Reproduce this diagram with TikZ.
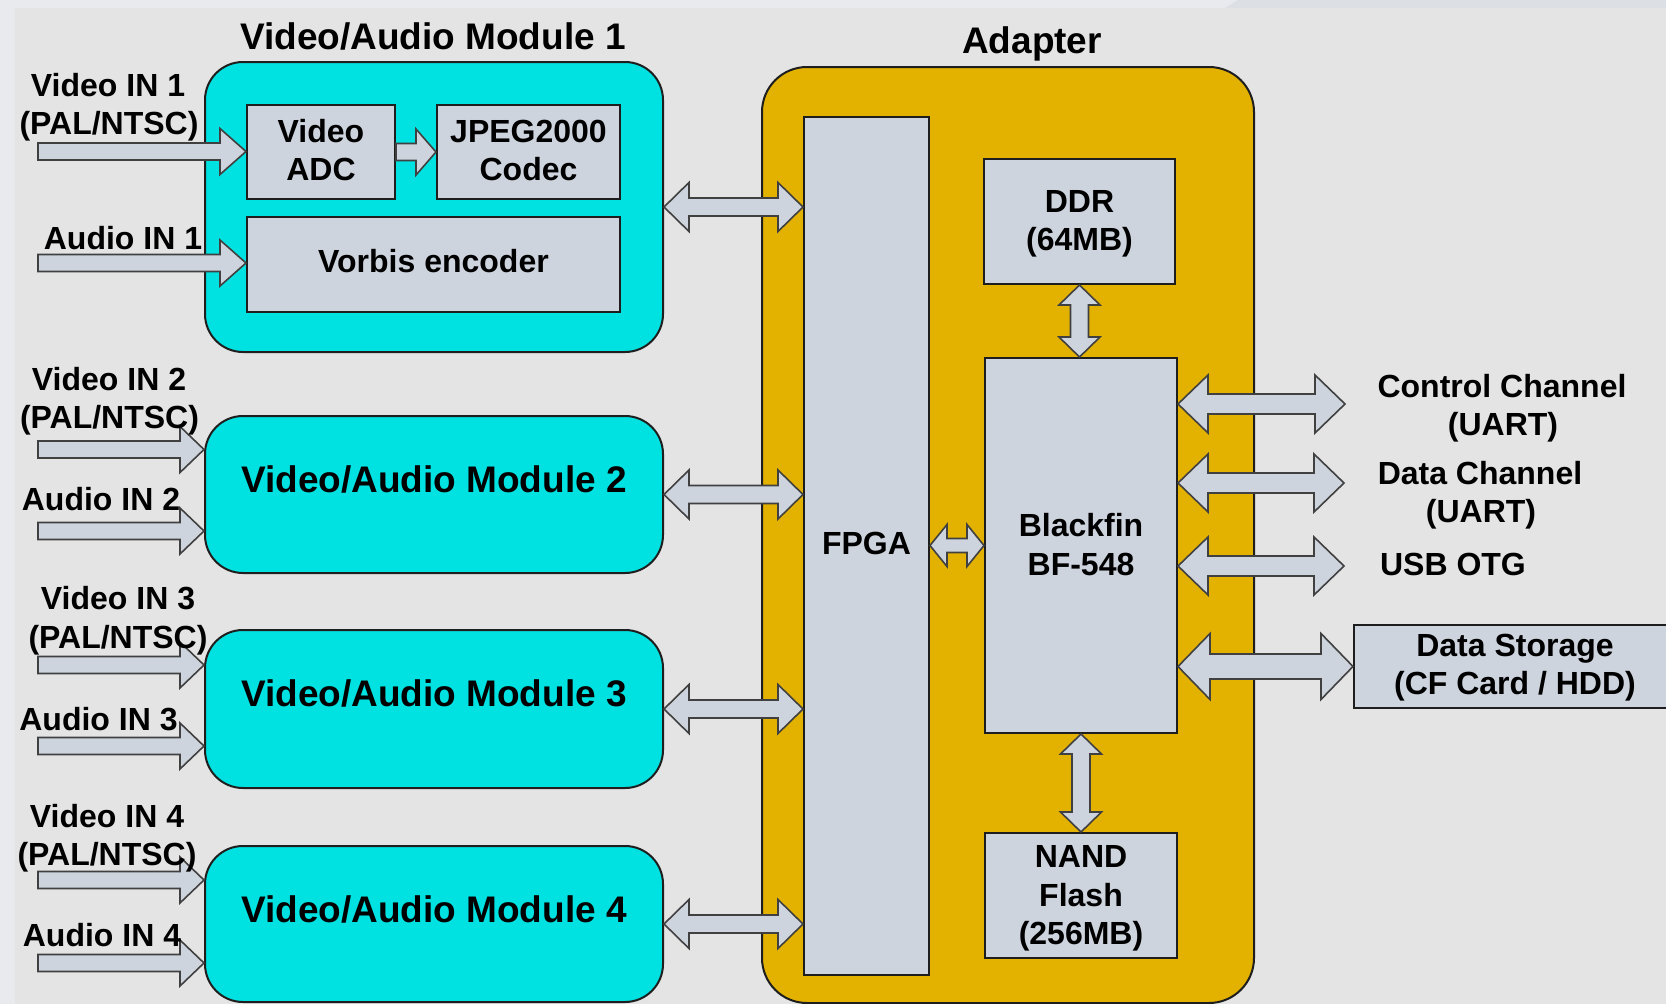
\documentclass[tikz,border=0pt]{standalone}
\usepackage{fontspec}
\setmainfont{Liberation Sans}
\usetikzlibrary{calc}
\definecolor{bgc}{RGB}{228,228,228}
\definecolor{bandc}{RGB}{233,234,237}
\definecolor{bandb}{RGB}{220,223,228}
\definecolor{cyanc}{RGB}{0,226,226}
\definecolor{goldc}{RGB}{227,177,0}
\definecolor{boxc}{RGB}{206,212,222}
\definecolor{linec}{RGB}{30,30,30}
\newcommand\lblfont{\fontsize{32}{38}\selectfont\bfseries}
\newcommand\bigfont{\fontsize{37}{42}\selectfont\bfseries}
\tikzset{
  box/.style={draw=linec, line width=2pt, fill=boxc, inner sep=0pt},
  modbox/.style={draw=linec, line width=2pt, fill=cyanc, rounded corners=38pt, inner sep=0pt},
  adbox/.style={draw=linec, line width=2pt, fill=goldc, rounded corners=45pt, inner sep=0pt},
  fatarrow/.style={draw=linec!85, fill=boxc, line width=1.6pt, line join=miter},
  lbl/.style={font=\lblfont, inner sep=0pt, anchor=base},
  big/.style={font=\bigfont, inner sep=0pt, anchor=base}
}
% single fat arrow: #1 tail, #2 tip, #3 y-ref, #4 shaft half, #5 head half, #6 head length
\newcommand\fatsingle[6]{%
  \draw[fatarrow] let \p1=#1, \p2=#2, \p3=#3 in
  (\x1,\y3+#4) -- (\x2-#6,\y3+#4) -- (\x2-#6,\y3+#5) -- (\x2,\y3) --
  (\x2-#6,\y3-#5) -- (\x2-#6,\y3-#4) -- (\x1,\y3-#4) -- cycle;}
% double horizontal fat arrow
\newcommand\fatdouble[6]{%
  \draw[fatarrow] let \p1=#1, \p2=#2, \p3=#3 in
  (\x1,\y3) -- (\x1+#6,\y3+#5) -- (\x1+#6,\y3+#4) -- (\x2-#6,\y3+#4) --
  (\x2-#6,\y3+#5) -- (\x2,\y3) -- (\x2-#6,\y3-#5) -- (\x2-#6,\y3-#4) --
  (\x1+#6,\y3-#4) -- (\x1+#6,\y3-#5) -- cycle;}
% double vertical fat arrow: #1 top, #2 bottom, #3 x-ref
\newcommand\fatdoublev[6]{%
  \draw[fatarrow] let \p1=#1, \p2=#2, \p3=#3 in
  (\x3,\y1) -- (\x3+#5,\y1-#6) -- (\x3+#4,\y1-#6) -- (\x3+#4,\y2+#6) --
  (\x3+#5,\y2+#6) -- (\x3,\y2) -- (\x3-#5,\y2+#6) -- (\x3-#4,\y2+#6) --
  (\x3-#4,\y1-#6) -- (\x3-#5,\y1-#6) -- cycle;}
\begin{document}
\begin{tikzpicture}[x=1pt,y=-1pt]
\useasboundingbox (0,0) rectangle (1666,1004);
% background
\fill[bgc] (0,0) rectangle (1666,1004);
\fill[bandc] (0,0) rectangle (15,1004);
\fill[bandc] (0,0) -- (1238,0) -- (1225,8) -- (0,8) -- cycle;
\fill[bandb] (1238,0) -- (1666,0) -- (1666,8) -- (1225,8) -- cycle;

% module boxes
\node[modbox, minimum width=458pt, minimum height=290pt] (m1) at (434,207) {};
\node[modbox, minimum width=458pt, minimum height=157pt] (m2) at (434,494.5) {};
\node[modbox, minimum width=458pt, minimum height=158pt] (m3) at (434,709) {};
\node[modbox, minimum width=458pt, minimum height=156pt] (m4) at (434,924) {};

\node[box, minimum width=148pt, minimum height=94pt] (adc) at (321,152) {};
\node[box, minimum width=183pt, minimum height=94pt] (jpeg) at (528.5,152) {};
\node[box, minimum width=373pt, minimum height=95pt] (vorbis) at (433.5,264.5) {};

% adapter
\node[adbox, minimum width=492pt, minimum height=936pt] (adapter) at (1008,535) {};
\node[box, minimum width=125pt, minimum height=858pt] (fpga) at (866.5,546) {};
\node[box, minimum width=191pt, minimum height=125pt] (ddr) at (1079.5,221.5) {};
\node[box, minimum width=192pt, minimum height=375pt] (bf) at (1081,545.5) {};
\node[box, minimum width=192pt, minimum height=125pt] (nand) at (1081,895.5) {};
\node[box, minimum width=322pt, minimum height=83pt] (storage) at (1515,666.5) {};

% input arrows
\coordinate (v1s) at (38,151.5);
\coordinate (a1s) at (38,263);
\coordinate (v2s) at (38,449.5);
\coordinate (a2s) at (38,531);
\coordinate (v3s) at (38,665);
\coordinate (a3s) at (38,746);
\coordinate (v4s) at (38,880);
\coordinate (a4s) at (38,963);
\fatsingle{(v1s)}{(adc.west)}{(v1s)}{8.5pt}{23pt}{26pt}
\fatsingle{(a1s)}{(vorbis.west)}{(a1s)}{8.5pt}{23pt}{26pt}
\fatsingle{(v2s)}{(m2.west)}{(v2s)}{8.5pt}{23pt}{24pt}
\fatsingle{(a2s)}{(m2.west)}{(a2s)}{8.5pt}{23pt}{24pt}
\fatsingle{(v3s)}{(m3.west)}{(v3s)}{8.5pt}{23pt}{24pt}
\fatsingle{(a3s)}{(m3.west)}{(a3s)}{8.5pt}{23pt}{24pt}
\fatsingle{(v4s)}{(m4.west)}{(v4s)}{8.5pt}{23pt}{24pt}
\fatsingle{(a4s)}{(m4.west)}{(a4s)}{8.5pt}{23pt}{24pt}
\fatsingle{(adc.east)}{(jpeg.west)}{(adc.east)}{8.5pt}{23pt}{20pt}

% module <-> FPGA
\fatdouble{(m1.east)}{(fpga.west)}{(m1.east)}{9pt}{24.5pt}{25pt}
\fatdouble{(m2.east)}{(fpga.west)}{(m2.east)}{9pt}{24.5pt}{25pt}
\fatdouble{(m3.east)}{(fpga.west)}{(m3.east)}{9pt}{24.5pt}{25pt}
\fatdouble{(m4.east)}{(fpga.west)}{(m4.east)}{9pt}{24.5pt}{25pt}
% FPGA <-> Blackfin
\fatdouble{(fpga.east)}{(bf.west)}{(bf.west)}{7pt}{21pt}{17pt}
% DDR / NAND
\fatdoublev{(ddr.south)}{(bf.north)}{(ddr.south)}{9pt}{20.5pt}{20pt}
\fatdoublev{(bf.south)}{(nand.north)}{(bf.south)}{9pt}{20.5pt}{20pt}
% right side
\coordinate (ctrl) at (1345,404);
\coordinate (datac) at (1344,483);
\coordinate (usb) at (1344,566);
\fatdouble{(bf.east)}{(ctrl)}{(ctrl)}{10pt}{29pt}{30pt}
\fatdouble{(bf.east)}{(datac)}{(datac)}{10pt}{29pt}{30pt}
\fatdouble{(bf.east)}{(usb)}{(usb)}{10pt}{29pt}{30pt}
\fatdouble{(bf.east)}{(storage.west)}{(storage.west)}{12.5pt}{33pt}{32pt}

% texts
\node[big] (t1) at (433,49) {Video/Audio Module 1};
\node[big] (tad) at (1032,53) {Adapter};
\node[big] (t2) at (434,492) {Video/Audio Module 2};
\node[big] (t3) at (434,706) {Video/Audio Module 3};
\node[big] (t4) at (434,922) {Video/Audio Module 4};

\node[lbl] (adca) at (321,142) {Video};
\node[lbl] (adcb) at (321,180) {ADC};
\node[lbl] (jpa) at (528.5,142) {JPEG2000};
\node[lbl] (jpb) at (528.5,180) {Codec};
\node[lbl] (vbt) at (433.5,272) {Vorbis encoder};

\node[lbl] (v1a) at (108,96) {Video IN 1};
\node[lbl] (v1b) at (109,134) {(PAL/NTSC)};
\node[lbl] (a1) at (123,249) {Audio IN 1};
\node[lbl] (v2a) at (109,390) {Video IN 2};
\node[lbl] (v2b) at (109.5,428) {(PAL/NTSC)};
\node[lbl] (a2) at (101,510) {Audio IN 2};
\node[lbl] (v3a) at (118,609) {Video IN 3};
\node[lbl] (v3b) at (118,648) {(PAL/NTSC)};
\node[lbl] (a3) at (98.5,730) {Audio IN 3};
\node[lbl] (v4a) at (107,827) {Video IN 4};
\node[lbl] (v4b) at (107,865) {(PAL/NTSC)};
\node[lbl] (a4) at (102,946) {Audio IN 4};

\node[lbl] (fpt) at (866.5,554) {FPGA};
\node[lbl] (ddra) at (1079.5,212) {DDR};
\node[lbl] (ddrb) at (1079.5,250) {(64MB)};
\node[lbl] (bfa) at (1081,536) {Blackfin};
\node[lbl] (bfb) at (1081,575) {BF-548};
\node[lbl] (nda) at (1081,867) {NAND};
\node[lbl] (ndb) at (1081,906) {Flash};
\node[lbl] (ndc) at (1081,944) {(256MB)};

\node[lbl] (cca) at (1502,397) {Control Channel};
\node[lbl] (ccb) at (1503,435) {(UART)};
\node[lbl] (dca) at (1480,484) {Data Channel};
\node[lbl] (dcb) at (1481,522) {(UART)};
\node[lbl] (usbt) at (1453,575) {USB OTG};
\node[lbl] (dsa) at (1515,656) {Data Storage};
\node[lbl] (dsb) at (1515,694) {(CF Card / HDD)};
\end{tikzpicture}
\end{document}
